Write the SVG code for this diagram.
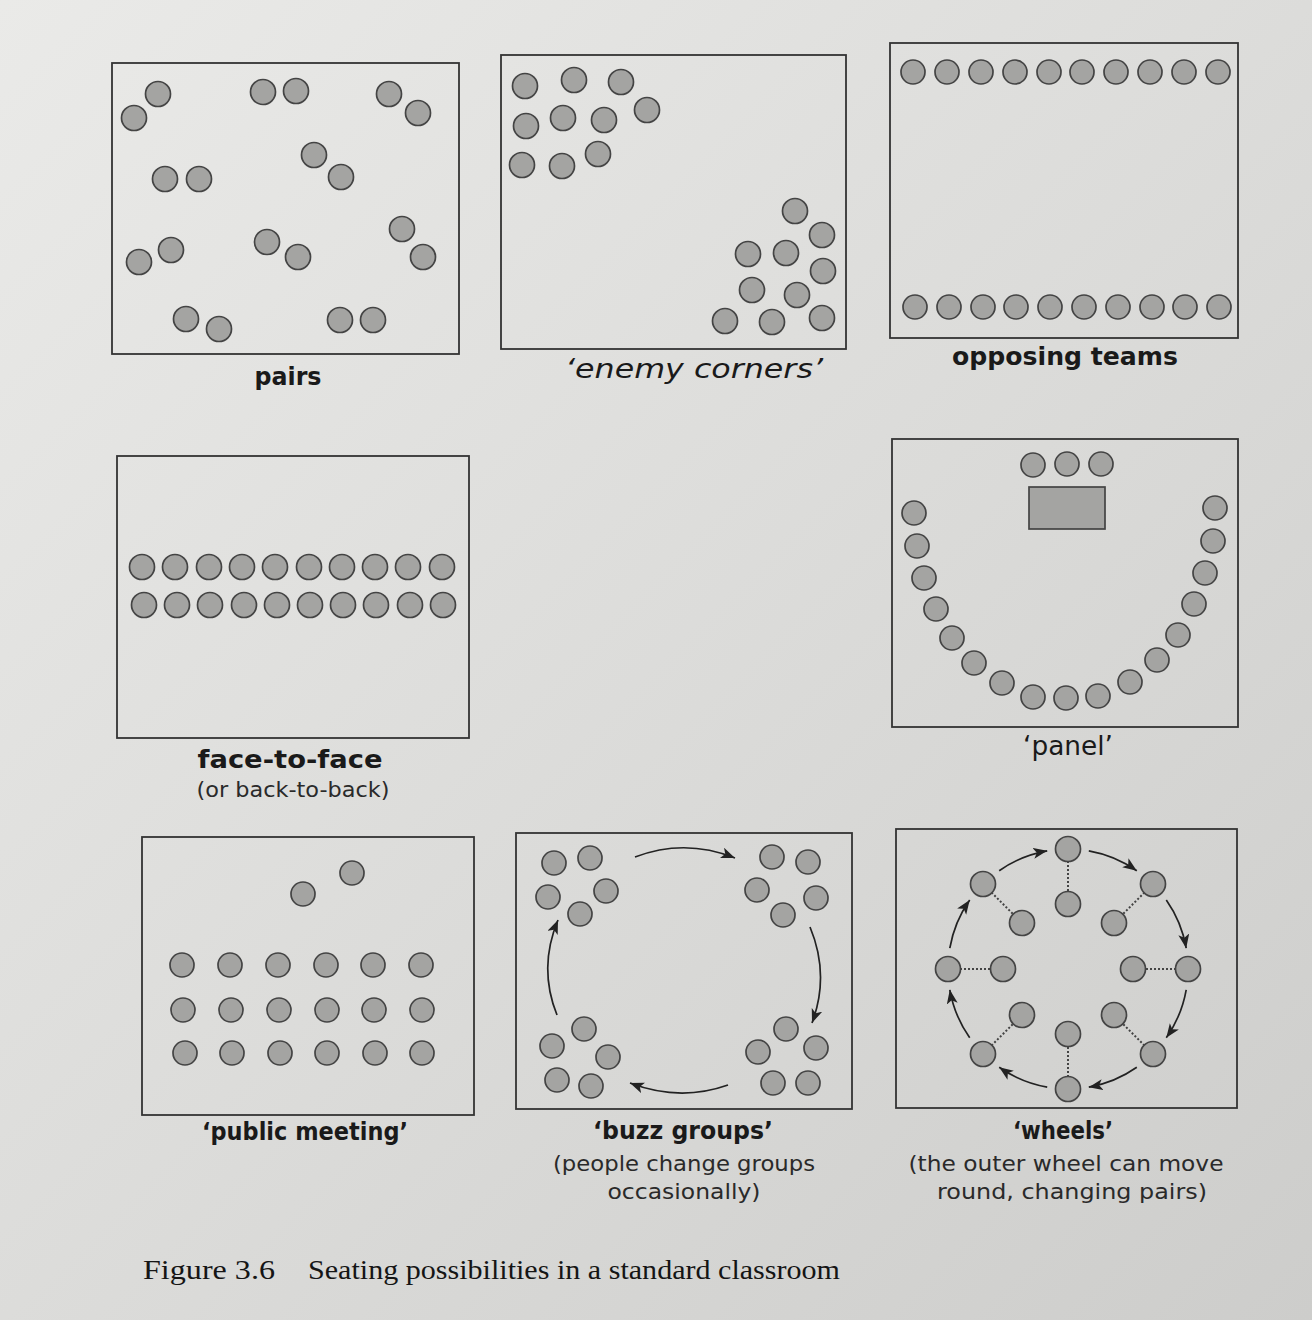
<svg xmlns="http://www.w3.org/2000/svg" width="1312" height="1320" viewBox="0 0 1312 1320">
<defs>
<linearGradient id="bg" x1="0" y1="0" x2="1" y2="1">
<stop offset="0" stop-color="#eaeae8"/>
<stop offset="0.5" stop-color="#dcdcda"/>
<stop offset="1" stop-color="#cdcdcb"/>
</linearGradient>
<marker id="ah" markerUnits="userSpaceOnUse" markerWidth="16" markerHeight="12" refX="14" refY="5.5" orient="auto">
<path d="M0,0 L14,5.5 L0,11 L3.5,5.5 z" fill="#222"/>
</marker>
<style>
.box{fill:none;stroke:#333;stroke-width:1.8}
.s{fill:#a4a4a2;stroke:#444;stroke-width:1.7}
.lab{font-family:"DejaVu Sans",sans-serif;font-weight:bold;font-size:25px;fill:#1a1a1a;text-anchor:middle}
.lab2{font-family:"DejaVu Sans",sans-serif;font-style:italic;font-size:26px;fill:#1a1a1a;text-anchor:middle}
.sub{font-family:"DejaVu Sans",sans-serif;font-size:21px;fill:#2a2a2a;text-anchor:middle}
.cap{font-family:"Liberation Serif",serif;font-size:28px;fill:#151515}
.arr{fill:none;stroke:#222;stroke-width:1.7;marker-end:url(#ah)}
.dot{stroke:#444;stroke-width:2;stroke-dasharray:2 2}
</style>
</defs>
<rect x="0" y="0" width="1312" height="1320" fill="url(#bg)"/>

<g id="pairs">
<rect class="box" x="112" y="63" width="347" height="291"/>
<circle class="s" cx="158" cy="94" r="12.5"/>
<circle class="s" cx="134" cy="118" r="12.5"/>
<circle class="s" cx="263" cy="92" r="12.5"/>
<circle class="s" cx="296" cy="91" r="12.5"/>
<circle class="s" cx="389" cy="94" r="12.5"/>
<circle class="s" cx="418" cy="113" r="12.5"/>
<circle class="s" cx="314" cy="155" r="12.5"/>
<circle class="s" cx="341" cy="177" r="12.5"/>
<circle class="s" cx="165" cy="179" r="12.5"/>
<circle class="s" cx="199" cy="179" r="12.5"/>
<circle class="s" cx="402" cy="229" r="12.5"/>
<circle class="s" cx="423" cy="257" r="12.5"/>
<circle class="s" cx="171" cy="250" r="12.5"/>
<circle class="s" cx="139" cy="262" r="12.5"/>
<circle class="s" cx="267" cy="242" r="12.5"/>
<circle class="s" cx="298" cy="257" r="12.5"/>
<circle class="s" cx="186" cy="319" r="12.5"/>
<circle class="s" cx="219" cy="329" r="12.5"/>
<circle class="s" cx="340" cy="320" r="12.5"/>
<circle class="s" cx="373" cy="320" r="12.5"/>
<text class="lab" x="288" y="385" textLength="67" lengthAdjust="spacingAndGlyphs">pairs</text>
</g>

<g id="enemy-corners">
<rect class="box" x="501" y="55" width="345" height="294"/>
<circle class="s" cx="525" cy="86" r="12.5"/>
<circle class="s" cx="574" cy="80" r="12.5"/>
<circle class="s" cx="621" cy="82" r="12.5"/>
<circle class="s" cx="647" cy="110" r="12.5"/>
<circle class="s" cx="526" cy="126" r="12.5"/>
<circle class="s" cx="563" cy="118" r="12.5"/>
<circle class="s" cx="604" cy="120" r="12.5"/>
<circle class="s" cx="522" cy="165" r="12.5"/>
<circle class="s" cx="562" cy="166" r="12.5"/>
<circle class="s" cx="598" cy="154" r="12.5"/>
<circle class="s" cx="795" cy="211" r="12.5"/>
<circle class="s" cx="822" cy="235" r="12.5"/>
<circle class="s" cx="748" cy="254" r="12.5"/>
<circle class="s" cx="786" cy="253" r="12.5"/>
<circle class="s" cx="823" cy="271" r="12.5"/>
<circle class="s" cx="752" cy="290" r="12.5"/>
<circle class="s" cx="797" cy="295" r="12.5"/>
<circle class="s" cx="725" cy="321" r="12.5"/>
<circle class="s" cx="772" cy="322" r="12.5"/>
<circle class="s" cx="822" cy="318" r="12.5"/>
<text class="lab2" x="694" y="378" textLength="258" lengthAdjust="spacingAndGlyphs">‘enemy corners’</text>
</g>

<g id="opposing-teams">
<rect class="box" x="890" y="43" width="348" height="295"/>
<g>
<circle class="s" cx="913" cy="72" r="12"/>
<circle class="s" cx="947" cy="72" r="12"/>
<circle class="s" cx="981" cy="72" r="12"/>
<circle class="s" cx="1015" cy="72" r="12"/>
<circle class="s" cx="1049" cy="72" r="12"/>
<circle class="s" cx="1082" cy="72" r="12"/>
<circle class="s" cx="1116" cy="72" r="12"/>
<circle class="s" cx="1150" cy="72" r="12"/>
<circle class="s" cx="1184" cy="72" r="12"/>
<circle class="s" cx="1218" cy="72" r="12"/>
</g>
<g>
<circle class="s" cx="915" cy="307" r="12"/>
<circle class="s" cx="949" cy="307" r="12"/>
<circle class="s" cx="983" cy="307" r="12"/>
<circle class="s" cx="1016" cy="307" r="12"/>
<circle class="s" cx="1050" cy="307" r="12"/>
<circle class="s" cx="1084" cy="307" r="12"/>
<circle class="s" cx="1118" cy="307" r="12"/>
<circle class="s" cx="1152" cy="307" r="12"/>
<circle class="s" cx="1185" cy="307" r="12"/>
<circle class="s" cx="1219" cy="307" r="12"/>
</g>
<text class="lab" x="1065" y="365" textLength="226" lengthAdjust="spacingAndGlyphs">opposing teams</text>
</g>

<g id="face-to-face">
<rect class="box" x="117" y="456" width="352" height="282"/>
<g>
<circle class="s" cx="142" cy="567" r="12.5"/>
<circle class="s" cx="175" cy="567" r="12.5"/>
<circle class="s" cx="209" cy="567" r="12.5"/>
<circle class="s" cx="242" cy="567" r="12.5"/>
<circle class="s" cx="275" cy="567" r="12.5"/>
<circle class="s" cx="309" cy="567" r="12.5"/>
<circle class="s" cx="342" cy="567" r="12.5"/>
<circle class="s" cx="375" cy="567" r="12.5"/>
<circle class="s" cx="408" cy="567" r="12.5"/>
<circle class="s" cx="442" cy="567" r="12.5"/>
</g>
<g>
<circle class="s" cx="144" cy="605" r="12.5"/>
<circle class="s" cx="177" cy="605" r="12.5"/>
<circle class="s" cx="210" cy="605" r="12.5"/>
<circle class="s" cx="244" cy="605" r="12.5"/>
<circle class="s" cx="277" cy="605" r="12.5"/>
<circle class="s" cx="310" cy="605" r="12.5"/>
<circle class="s" cx="343" cy="605" r="12.5"/>
<circle class="s" cx="376" cy="605" r="12.5"/>
<circle class="s" cx="410" cy="605" r="12.5"/>
<circle class="s" cx="443" cy="605" r="12.5"/>
</g>
<text class="lab" x="290" y="768" textLength="185" lengthAdjust="spacingAndGlyphs">face-to-face</text>
<text class="sub" x="293" y="797" textLength="193" lengthAdjust="spacingAndGlyphs">(or back-to-back)</text>
</g>

<g id="panel">
<rect class="box" x="892" y="439" width="346" height="288"/>
<circle class="s" cx="1033" cy="465" r="12"/>
<circle class="s" cx="1067" cy="464" r="12"/>
<circle class="s" cx="1101" cy="464" r="12"/>
<rect class="s" x="1029" y="487" width="76" height="42"/>
<circle class="s" cx="914" cy="513" r="12"/>
<circle class="s" cx="917" cy="546" r="12"/>
<circle class="s" cx="924" cy="578" r="12"/>
<circle class="s" cx="936" cy="609" r="12"/>
<circle class="s" cx="952" cy="638" r="12"/>
<circle class="s" cx="974" cy="663" r="12"/>
<circle class="s" cx="1002" cy="683" r="12"/>
<circle class="s" cx="1033" cy="697" r="12"/>
<circle class="s" cx="1066" cy="698" r="12"/>
<circle class="s" cx="1098" cy="696" r="12"/>
<circle class="s" cx="1130" cy="682" r="12"/>
<circle class="s" cx="1157" cy="660" r="12"/>
<circle class="s" cx="1178" cy="635" r="12"/>
<circle class="s" cx="1194" cy="604" r="12"/>
<circle class="s" cx="1205" cy="573" r="12"/>
<circle class="s" cx="1213" cy="541" r="12"/>
<circle class="s" cx="1215" cy="508" r="12"/>
<text class="lab2" x="1068" y="755" textLength="90" lengthAdjust="spacingAndGlyphs" style="font-style:normal">‘panel’</text>
</g>

<g id="public-meeting">
<rect class="box" x="142" y="837" width="332" height="278"/>
<circle class="s" cx="303" cy="894" r="12"/>
<circle class="s" cx="352" cy="873" r="12"/>
<circle class="s" cx="182" cy="965" r="12"/>
<circle class="s" cx="230" cy="965" r="12"/>
<circle class="s" cx="278" cy="965" r="12"/>
<circle class="s" cx="326" cy="965" r="12"/>
<circle class="s" cx="373" cy="965" r="12"/>
<circle class="s" cx="421" cy="965" r="12"/>
<circle class="s" cx="183" cy="1010" r="12"/>
<circle class="s" cx="231" cy="1010" r="12"/>
<circle class="s" cx="279" cy="1010" r="12"/>
<circle class="s" cx="327" cy="1010" r="12"/>
<circle class="s" cx="374" cy="1010" r="12"/>
<circle class="s" cx="422" cy="1010" r="12"/>
<circle class="s" cx="185" cy="1053" r="12"/>
<circle class="s" cx="232" cy="1053" r="12"/>
<circle class="s" cx="280" cy="1053" r="12"/>
<circle class="s" cx="327" cy="1053" r="12"/>
<circle class="s" cx="375" cy="1053" r="12"/>
<circle class="s" cx="422" cy="1053" r="12"/>
<text class="lab" x="305" y="1140" textLength="206" lengthAdjust="spacingAndGlyphs">‘public meeting’</text>
</g>

<g id="buzz-groups">
<rect class="box" x="516" y="833" width="336" height="276"/>
<circle class="s" cx="554" cy="863" r="12"/>
<circle class="s" cx="590" cy="858" r="12"/>
<circle class="s" cx="548" cy="897" r="12"/>
<circle class="s" cx="606" cy="891" r="12"/>
<circle class="s" cx="580" cy="914" r="12"/>
<circle class="s" cx="772" cy="857" r="12"/>
<circle class="s" cx="808" cy="862" r="12"/>
<circle class="s" cx="757" cy="890" r="12"/>
<circle class="s" cx="816" cy="898" r="12"/>
<circle class="s" cx="783" cy="915" r="12"/>
<circle class="s" cx="786" cy="1029" r="12"/>
<circle class="s" cx="758" cy="1052" r="12"/>
<circle class="s" cx="816" cy="1048" r="12"/>
<circle class="s" cx="773" cy="1083" r="12"/>
<circle class="s" cx="808" cy="1083" r="12"/>
<circle class="s" cx="584" cy="1029" r="12"/>
<circle class="s" cx="552" cy="1046" r="12"/>
<circle class="s" cx="608" cy="1057" r="12"/>
<circle class="s" cx="557" cy="1080" r="12"/>
<circle class="s" cx="591" cy="1086" r="12"/>
<text class="lab" x="683" y="1139" textLength="180" lengthAdjust="spacingAndGlyphs">‘buzz groups’</text>
<text class="sub" x="684" y="1171" textLength="262" lengthAdjust="spacingAndGlyphs">(people change groups</text>
<text class="sub" x="684" y="1199" textLength="153" lengthAdjust="spacingAndGlyphs">occasionally)</text>
</g>

<g id="wheels">
<rect class="box" x="896" y="829" width="341" height="279"/>
<g>
<line class="dot" x1="1068" y1="849" x2="1068" y2="904"/>
<line class="dot" x1="1153" y1="884" x2="1114" y2="923"/>
<line class="dot" x1="1188" y1="969" x2="1133" y2="969"/>
<line class="dot" x1="1153" y1="1054" x2="1114" y2="1015"/>
<line class="dot" x1="1068" y1="1089" x2="1068" y2="1034"/>
<line class="dot" x1="983" y1="1054" x2="1022" y2="1015"/>
<line class="dot" x1="948" y1="969" x2="1003" y2="969"/>
<line class="dot" x1="983" y1="884" x2="1022" y2="923"/>
</g>
<circle class="s" cx="1068" cy="849" r="12.5"/>
<circle class="s" cx="1153" cy="884" r="12.5"/>
<circle class="s" cx="1188" cy="969" r="12.5"/>
<circle class="s" cx="1153" cy="1054" r="12.5"/>
<circle class="s" cx="1068" cy="1089" r="12.5"/>
<circle class="s" cx="983" cy="1054" r="12.5"/>
<circle class="s" cx="948" cy="969" r="12.5"/>
<circle class="s" cx="983" cy="884" r="12.5"/>
<circle class="s" cx="1068" cy="904" r="12.5"/>
<circle class="s" cx="1114" cy="923" r="12.5"/>
<circle class="s" cx="1133" cy="969" r="12.5"/>
<circle class="s" cx="1114" cy="1015" r="12.5"/>
<circle class="s" cx="1068" cy="1034" r="12.5"/>
<circle class="s" cx="1022" cy="1015" r="12.5"/>
<circle class="s" cx="1003" cy="969" r="12.5"/>
<circle class="s" cx="1022" cy="923" r="12.5"/>
<text class="lab" x="1063" y="1139" textLength="100" lengthAdjust="spacingAndGlyphs">‘wheels’</text>
<text class="sub" x="1066" y="1171" textLength="315" lengthAdjust="spacingAndGlyphs">(the outer wheel can move</text>
<text class="sub" x="1072" y="1199" textLength="270" lengthAdjust="spacingAndGlyphs">round, changing pairs)</text>
</g>

<g id="connectors">
<path class="arr" d="M635,857 Q685,838 735,858"/>
<path class="arr" d="M810,927 Q830,975 812,1023"/>
<path class="arr" d="M728,1085 Q680,1102 630,1083"/>
<path class="arr" d="M557,1015 Q538,968 558,920"/>
<path class="arr" d="M1088.8,850.8 A120,120 0 0 1 1136.8,870.7"/>
<path class="arr" d="M1166.3,900.1 A120,120 0 0 1 1186.2,948.2"/>
<path class="arr" d="M1186.2,989.8 A120,120 0 0 1 1166.3,1037.8"/>
<path class="arr" d="M1136.8,1067.3 A120,120 0 0 1 1088.8,1087.2"/>
<path class="arr" d="M1047.2,1087.2 A120,120 0 0 1 999.2,1067.3"/>
<path class="arr" d="M969.7,1037.8 A120,120 0 0 1 949.8,989.8"/>
<path class="arr" d="M949.8,948.2 A120,120 0 0 1 969.7,900.1"/>
<path class="arr" d="M999.2,870.7 A120,120 0 0 1 1047.2,850.8"/>
</g>

<g id="caption">
<text class="cap" x="143" y="1279" textLength="132" lengthAdjust="spacingAndGlyphs">Figure 3.6</text>
<text class="cap" x="308" y="1279" textLength="532" lengthAdjust="spacingAndGlyphs">Seating possibilities in a standard classroom</text>
</g>
</svg>
